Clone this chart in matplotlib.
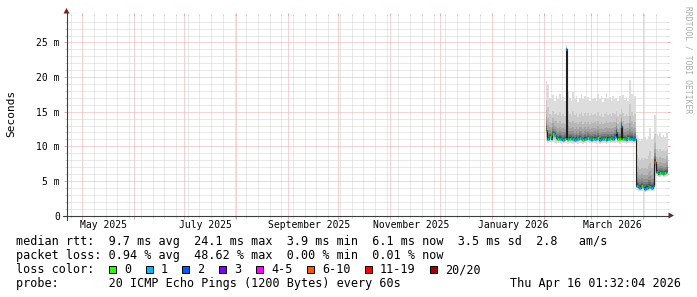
import numpy as np
import pandas as pd
import matplotlib
matplotlib.use('Agg')
import matplotlib.pyplot as plt
import matplotlib.dates as mdates
from matplotlib.ticker import MultipleLocator, FuncFormatter, NullFormatter
from matplotlib.patches import Rectangle, Polygon
from matplotlib.lines import Line2D

W, H = 697, 297
MONO = 'DejaVu Sans Mono'

# one bin per day, Feb 2 .. Apr 15 2026, values in ms
days = pd.date_range('2026-02-02', periods=74, freq='D')

median_ms = [12.3, 11.0, 11.3, 11.1, 11.8, 11.6, 11.2, 11.0, 11.1, 11.0,
             10.9, 11.1, 24.1, 11.0, 11.1, 11.2, 11.0, 10.9, 11.1, 11.0,
             11.2, 11.0, 10.9, 11.1, 11.0, 11.2, 11.1, 10.9, 11.0, 11.1,
             11.0, 11.2, 10.9, 11.0, 11.1, 11.0, 10.9, 11.1, 11.0, 11.2,
             11.0, 11.3, 12.1, 11.1, 11.0, 13.0, 11.1, 11.0, 10.9, 11.2,
             11.0, 11.1, 10.9, 11.0,
             4.3, 4.1, 4.0, 4.2, 4.1, 3.9, 4.0, 4.2, 4.1, 4.0, 4.2,
             7.8,
             6.3, 6.0, 6.1, 6.2, 6.0, 6.1, 6.3, 6.1]

smoke_hi_ms = [19.5, 18.8, 17.0, 16.8, 17.4, 16.6, 17.2, 16.9, 17.5, 16.7,
               17.1, 16.5, 24.6, 17.9, 17.0, 16.6, 17.8, 16.9, 17.2, 16.4,
               17.0, 17.6, 16.8, 17.3, 16.7, 17.1, 16.5, 17.4, 16.9, 17.0,
               16.6, 17.5, 16.8, 17.2, 16.4, 17.0, 17.7, 16.9, 17.1, 16.6,
               17.3, 16.8, 17.0, 16.5, 17.2, 16.9, 17.4, 16.7, 17.1, 16.6,
               19.6, 17.5, 16.8, 17.2,
               11.6, 11.2, 10.8, 11.0, 10.6, 11.3, 10.9, 11.5, 12.7, 11.0, 11.2,
               14.5,
               11.8, 11.5, 11.9, 11.3, 11.7, 11.4, 11.9, 11.6]

smoke_lo_ms = [10.8, 10.5, 10.6, 10.5, 10.6, 10.5, 10.4, 10.5, 10.5, 10.4,
               10.5, 10.5, 23.5, 10.4, 10.5, 10.5, 10.4, 10.5, 10.5, 10.4,
               10.5, 10.5, 10.4, 10.5, 10.5, 10.6, 10.5, 10.4, 10.5, 10.5,
               10.4, 10.5, 10.4, 10.5, 10.5, 10.5, 10.4, 10.5, 10.5, 10.6,
               10.5, 10.5, 10.6, 10.5, 10.4, 10.6, 10.5, 10.5, 10.4, 10.5,
               10.5, 10.5, 10.4, 10.5,
               3.7, 3.6, 3.5, 3.6, 3.6, 3.4, 3.5, 3.6, 3.6, 3.5, 3.6,
               4.3,
               5.7, 5.5, 5.6, 5.7, 5.5, 5.6, 5.7, 5.6]

lost_pings = [0, 1, 0, 1, 0, 1, 1, 0, 1, 1,
              1, 0, 1, 1, 0, 1, 1, 1, 0, 1,
              1, 0, 0, 1, 1, 0, 1, 1, 0, 1,
              1, 0, 1, 1, 1, 0, 1, 1, 0, 1,
              1, 1, 1, 0, 0, 1, 0, 1, 0, 0,
              1, 1, 0, 1,
              1, 1, 1, 0, 1, 1, 1, 0, 1, 1, 1,
              7,
              1, 0, 0, 1, 0, 0, 1, 0]

loss_labels = ['0', '1', '2', '3', '4-5', '6-10', '11-19', '20/20']
loss_colors = ['#26ff00', '#00b8ff', '#0059ff', '#7e00ff',
               '#ff00ff', '#ff5500', '#ff0000', '#a10000']
loss_upper = [0, 1, 2, 3, 5, 10, 19, 20]

# smoke layers, outermost first (smokeping grey ramp for 20 pings)
smoke_frac = [1.0, 0.60, 0.40, 0.27, 0.18, 0.12, 0.08, 0.05, 0.03, 0.01]
smoke_grey = [int(190 / 10 * (10 - i)) + 50 for i in range(1, 11)]

stats_line = ('median rtt:  9.7 ms avg  24.1 ms max  3.9 ms min  '
              '6.1 ms now  3.5 ms sd  2.8   am/s')
loss_line = 'packet loss: 0.94 % avg  48.62 % max  0.00 % min  0.01 % now'
probe_line = 'probe:       20 ICMP Echo Pings (1200 Bytes) every 60s'
stamp = 'Thu Apr 16 01:32:04 2026'

t_start = pd.Timestamp('2025-04-21 12:00')
t_end = pd.Timestamp('2026-04-15 08:00')
y_top = 28.9

X0, Y0, XS, YS = 66.5, 215.5, 600, 200
AXIS_COL = '#3a3f3e'
ARROW_COL = '#7f1f1f'
GRID_COL = '#d2d2d2'
MGRID_COL = '#eeaaaa'


def fx(px):
    return px / W


def fy(py):
    return 1 - py / H


fig = plt.figure(figsize=(W / 100, H / 100), dpi=100)
fig.patch.set_facecolor('white')
ax = fig.add_axes([fx(X0), fy(Y0), XS / W, YS / H])
ax.set_facecolor('white')

x = mdates.date2num(days)
edges = np.append(x, x[-1] + 1)
med = np.array(median_ms)
hi = np.array(smoke_hi_ms)
lo = np.array(smoke_lo_ms)


def ext(a):
    return np.append(a, a[-1])


for f, g in zip(smoke_frac, smoke_grey):
    top = med + (hi - med) * f
    bot = med - (med - lo) * f
    ax.fill_between(edges, ext(bot), ext(top), step='post',
                    color='#%02x%02x%02x' % (g, g, g), lw=0, zorder=2)

ax.step(edges, ext(med), where='post', color='#202020', lw=0.8, zorder=3)

bins = [next(i for i, u in enumerate(loss_upper) if n <= u) for n in lost_pings]
for b, col in enumerate(loss_colors):
    sel = [i for i, v in enumerate(bins) if v == b]
    if sel:
        ax.hlines(med[sel], x[sel], x[sel] + 1, color=col, lw=1.9, zorder=4)

ax.set_xlim(mdates.date2num(t_start), mdates.date2num(t_end))
ax.set_ylim(0, y_top)

ax.xaxis.set_major_locator(mdates.MonthLocator())
ax.xaxis.set_minor_locator(mdates.WeekdayLocator(byweekday=mdates.TH))
ax.xaxis.set_major_formatter(NullFormatter())
ax.yaxis.set_major_locator(MultipleLocator(5))
ax.yaxis.set_minor_locator(MultipleLocator(1))
ax.yaxis.set_major_formatter(FuncFormatter(lambda v, p: '0' if v == 0 else f'{v:g} m'))

dots = (0, (1, 1))
ax.grid(which='minor', color=GRID_COL, ls=dots, lw=0.72, zorder=1)
ax.grid(which='major', color=MGRID_COL, ls=dots, lw=0.72, zorder=1)
ax.set_axisbelow(True)

ax.tick_params(which='both', direction='out', top=True, right=True,
               labelsize=7, pad=2.6)
ax.tick_params(which='major', length=2.2, width=0.72, color=MGRID_COL)
ax.tick_params(which='minor', length=1.45, width=0.72, color=GRID_COL)
for lab in ax.get_yticklabels():
    lab.set_family(MONO)
for s in ax.spines.values():
    s.set_visible(False)

# month labels, centred inside the month like rrdtool does
for m in pd.date_range('2025-05-01', '2026-03-01', freq='2MS'):
    xm = mdates.date2num(m + pd.Timedelta(days=12.8))
    ax.text(xm, -(228.3 - Y0) / YS, m.strftime('%B %Y'),
            transform=ax.get_xaxis_transform(),
            ha='center', va='baseline', fontsize=7, family=MONO)

# axes with arrows
fig.add_artist(Line2D([fx(X0 - 4), fx(X0 + XS + 3)], [fy(Y0), fy(Y0)],
                      color=AXIS_COL, lw=0.8))
fig.add_artist(Line2D([fx(X0), fx(X0)], [fy(Y0 + 4), fy(Y0 - YS - 3)],
                      color=AXIS_COL, lw=0.8))
fig.add_artist(Polygon([(fx(X0 + XS + 2), fy(Y0 - 3)), (fx(X0 + XS + 2), fy(Y0 + 3)),
                        (fx(X0 + XS + 7.5), fy(Y0))], closed=True,
                       color=ARROW_COL, lw=0))
fig.add_artist(Polygon([(fx(X0 - 3), fy(Y0 - YS - 2)), (fx(X0 + 3), fy(Y0 - YS - 2)),
                        (fx(X0), fy(Y0 - YS - 7.5))], closed=True,
                       color=ARROW_COL, lw=0))

fig.text(fx(11), fy(113.7), 'Seconds', rotation=90, ha='center', va='center',
         fontsize=8, family=MONO)
fig.text(fx(688), fy(60), 'RRDTOOL / TOBI OETIKER', rotation=270,
         ha='center', va='center', fontsize=5.8, family=MONO, color='#aaaaaa')

# legend block
fig.text(fx(16), fy(245), stats_line, fontsize=8.5, family=MONO, va='baseline')
fig.text(fx(16), fy(259), loss_line, fontsize=8.5, family=MONO, va='baseline')
fig.text(fx(16), fy(273.3), 'loss color:', fontsize=8.5, family=MONO, va='baseline')
bx = 109.0
for lab, col in zip(loss_labels, loss_colors):
    fig.add_artist(Rectangle((fx(bx), fy(273.3)), 7 / W, 7.5 / H,
                             facecolor=col, edgecolor='black', lw=0.7))
    fig.text(fx(bx + 15), fy(273.3), lab, fontsize=8.5, family=MONO, va='baseline')
    bx = bx + 15 + len(lab) * 7.12 + 14.6
fig.text(fx(16), fy(287.3), probe_line, fontsize=8.5, family=MONO, va='baseline')
fig.text(fx(680.5), fy(287.3), stamp, fontsize=8.5, family=MONO, va='baseline',
         ha='right')

fig.savefig('out.png', dpi=100, facecolor='white')
